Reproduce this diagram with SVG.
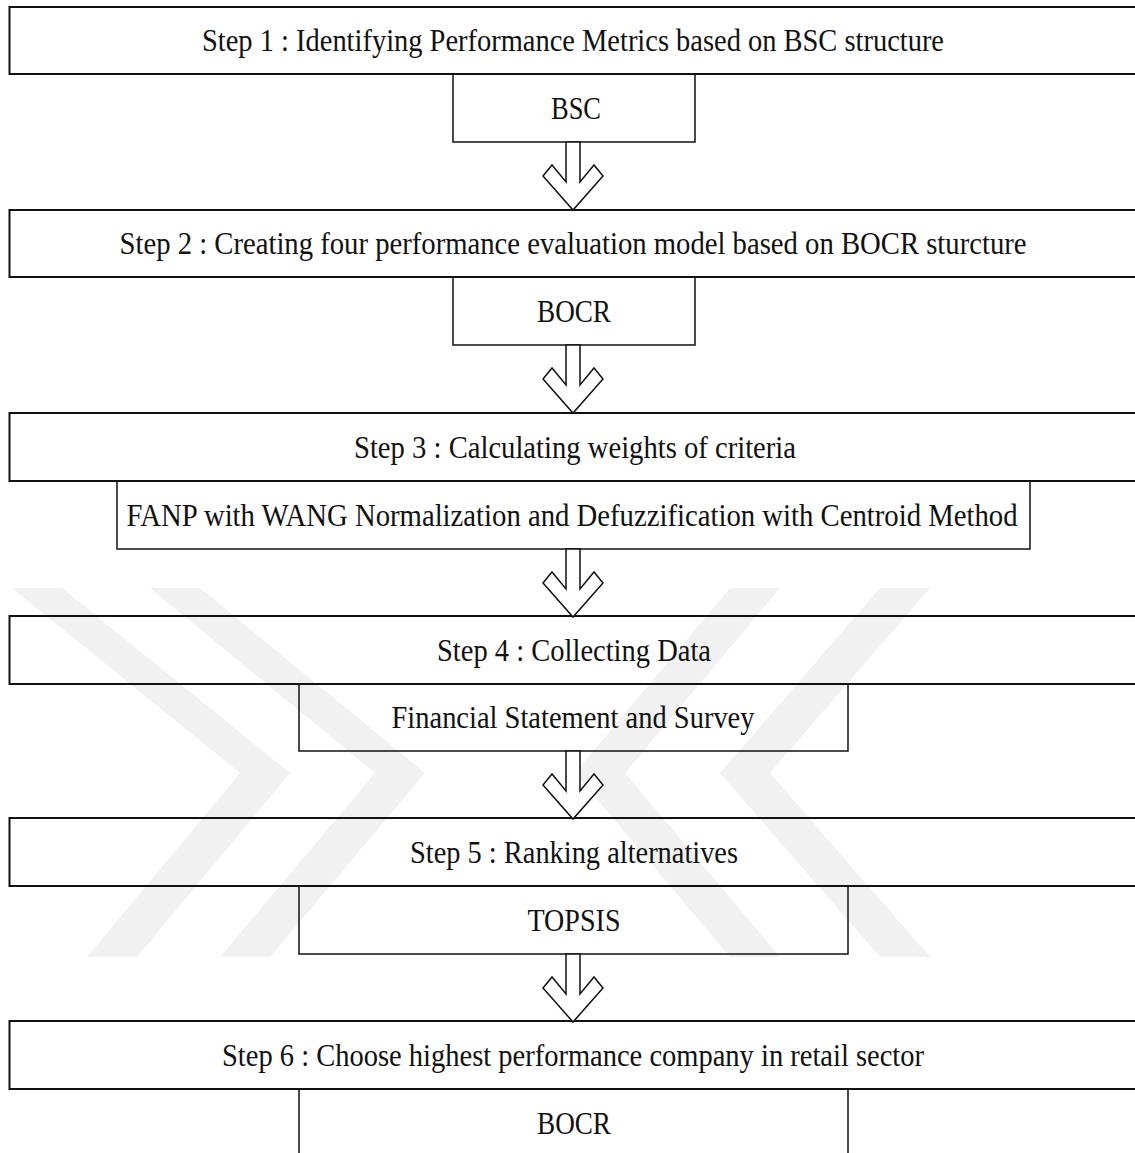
<svg xmlns="http://www.w3.org/2000/svg" width="1135" height="1153" viewBox="0 0 1135 1153">
  <style>
    .step { fill: none; stroke: #111111; stroke-width: 2; }
    .sub { fill: none; stroke: #111111; stroke-width: 1.5; }
    .lbl { font-family: "Liberation Serif", "Times New Roman", serif; font-size: 32px; fill: #111111; text-anchor: middle; }
    .arrow { fill: #ffffff; stroke: #111111; stroke-width: 1.5; stroke-linejoin: miter; }
    .mark { fill: #f1f1f1; }
  </style>
  <defs>
    <!-- hollow block arrow pointing down, origin at the top of its shaft -->
    <polygon id="downArrow" class="arrow" points="-7,0 -7,40 -21,23 -30,34 0,68 30,34 21,23 7,40 7,0"/>
  </defs>

  <rect width="1135" height="1153" fill="#ffffff"/>

  <!-- faint page watermark: paired chevron bands -->
  <g id="watermark">
    <polygon class="mark" points="12,588 62,588 290,773 137,957 87,957 240,773"/>
    <polygon class="mark" points="150,588 200,588 425,773 270,957 220,957 375,773"/>
    <polygon class="mark" points="730,588 780,588 625,773 780,957 730,957 575,773"/>
    <polygon class="mark" points="880,588 930,588 770,773 930,957 880,957 720,773"/>
  </g>

  <!-- step 1 -->
  <g id="step1">
    <rect class="step" x="9.5" y="7" width="1140" height="67"/>
    <text class="lbl" x="573" y="51" textLength="742" lengthAdjust="spacingAndGlyphs">Step 1 : Identifying Performance Metrics based on BSC structure</text>
  </g>
  <g id="bsc">
    <rect class="sub" x="453" y="74" width="242" height="68"/>
    <text class="lbl" x="576" y="119" textLength="50" lengthAdjust="spacingAndGlyphs">BSC</text>
  </g>

  <!-- step 2 -->
  <g id="step2">
    <rect class="step" x="9.5" y="210" width="1140" height="67"/>
    <text class="lbl" x="573" y="254" textLength="907" lengthAdjust="spacingAndGlyphs">Step 2 : Creating four performance evaluation model based on BOCR sturcture</text>
  </g>
  <g id="bocr1">
    <rect class="sub" x="453" y="277" width="242" height="68"/>
    <text class="lbl" x="574" y="322" textLength="74" lengthAdjust="spacingAndGlyphs">BOCR</text>
  </g>

  <!-- step 3 -->
  <g id="step3">
    <rect class="step" x="9.5" y="413" width="1140" height="68"/>
    <text class="lbl" x="575" y="458" textLength="442" lengthAdjust="spacingAndGlyphs">Step 3 : Calculating weights of criteria</text>
  </g>
  <g id="fanp">
    <rect class="sub" x="117" y="481" width="913" height="68"/>
    <text class="lbl" x="572" y="526" textLength="891" lengthAdjust="spacingAndGlyphs">FANP with WANG Normalization and Defuzzification with Centroid Method</text>
  </g>

  <!-- step 4 -->
  <g id="step4">
    <rect class="step" x="9.5" y="616" width="1140" height="68"/>
    <text class="lbl" x="574" y="661" textLength="274" lengthAdjust="spacingAndGlyphs">Step 4 : Collecting Data</text>
  </g>
  <g id="data">
    <rect class="sub" x="299" y="684" width="549" height="67"/>
    <text class="lbl" x="573" y="728" textLength="363" lengthAdjust="spacingAndGlyphs">Financial Statement and Survey</text>
  </g>

  <!-- step 5 -->
  <g id="step5">
    <rect class="step" x="9.5" y="818" width="1140" height="68"/>
    <text class="lbl" x="574" y="863" textLength="328" lengthAdjust="spacingAndGlyphs">Step 5 : Ranking alternatives</text>
  </g>
  <g id="topsis">
    <rect class="sub" x="299" y="886" width="549" height="68"/>
    <text class="lbl" x="574" y="931" textLength="93" lengthAdjust="spacingAndGlyphs">TOPSIS</text>
  </g>

  <!-- step 6 -->
  <g id="step6">
    <rect class="step" x="9.5" y="1021" width="1140" height="68"/>
    <text class="lbl" x="573" y="1066" textLength="702" lengthAdjust="spacingAndGlyphs">Step 6 : Choose highest performance company in retail sector</text>
  </g>
  <g id="bocr2">
    <rect class="sub" x="299" y="1089" width="549" height="90"/>
    <text class="lbl" x="574" y="1134" textLength="74" lengthAdjust="spacingAndGlyphs">BOCR</text>
  </g>

  <!-- connectors -->
  <g id="connectors">
    <use href="#downArrow" x="573" y="142"/>
    <use href="#downArrow" x="573" y="345"/>
    <use href="#downArrow" x="573" y="549"/>
    <use href="#downArrow" x="573" y="751"/>
    <use href="#downArrow" x="573" y="954"/>
  </g>
</svg>
